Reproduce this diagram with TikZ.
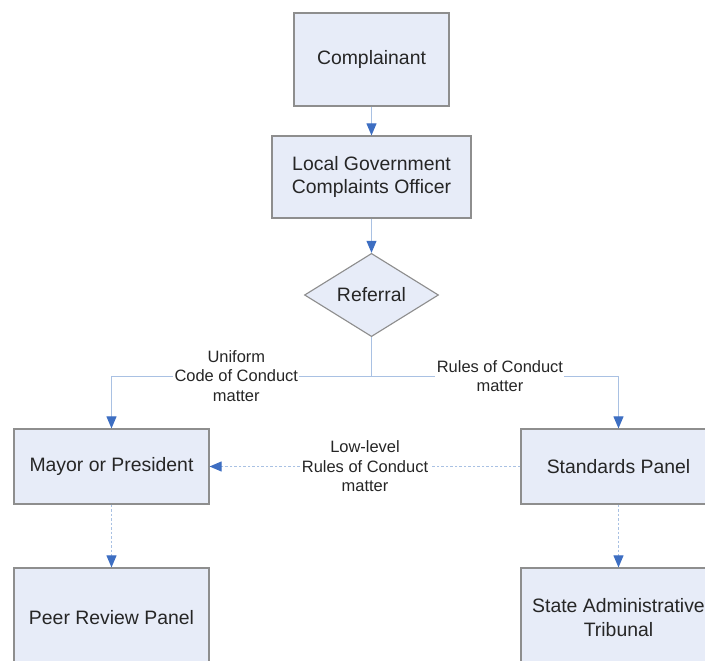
\documentclass[tikz,border=0pt]{standalone}
\usepackage{fontspec}
\setmainfont{Liberation Sans}
\usetikzlibrary{arrows.meta,shapes.geometric}
\definecolor{boxfill}{HTML}{E7ECF8}
\definecolor{boxline}{HTML}{8E8E8E}
\definecolor{flowline}{HTML}{A9C1E3}
\definecolor{flowhead}{HTML}{3D6EC2}
\definecolor{inktext}{HTML}{262626}

\begin{document}
\begin{tikzpicture}[x=0.025cm, y=-0.025cm,
        box/.style={draw=boxline, fill=boxfill, line width=0.8pt, align=center, text=inktext, inner sep=0pt, font=\fontsize{13.8}{17}\selectfont},
        decision/.style={box, diamond},
        link/.style={draw=flowline, line width=0.7pt},
        flow/.style={link, -{Triangle[length=0.3cm, width=0.25cm, color=flowhead]}},
        weak/.style={flow, dash pattern=on 2pt off 1.2pt},
        tag/.style={fill=white, align=center, inner sep=1pt, text=inktext, font=\fontsize{11.7}{13.8}\selectfont}]
        \clip (0,0) rectangle (705,661);
        \node[box, minimum width=3.875cm, minimum height=2.325cm] (complainant) at (371.5,59.5) {Complainant};
        \node[box, minimum width=4.975cm, minimum height=2.05cm] (officer) at (371.5,177) {Local Government\\Complaints Officer};
        \node[decision, minimum width=3.35cm, minimum height=2cm] (referral) at (371.5,295) {Referral};
        \node[box, minimum width=4.875cm, minimum height=1.875cm] (mayor) at (111.5,466.5) {Mayor or President};
        \node[box, minimum width=4.875cm, minimum height=1.875cm] (standards) at (618.5,466.5) {Standards Panel};
        \node[box, minimum width=4.875cm, minimum height=2.5cm] (peer) at (111.5,618) {Peer Review Panel};
        \node[box, minimum width=4.875cm, minimum height=2.5cm] (tribunal) at (618.5,618) {State Administrative\\Tribunal};
        \coordinate (split) at (371.5,376);
        \draw[flow] (complainant) -- (officer);
        \draw[flow] (officer) -- (referral);
        \draw[link] (referral) -- (split);
        \draw[flow] (split) -| node[tag, pos=0.26] {Uniform\\Code of Conduct\\matter} (mayor);
        \draw[flow] (split) -| node[tag, pos=0.26] {Rules of Conduct\\matter} (standards);
        \draw[weak] (standards) -- node[tag] {Low-level\\Rules of Conduct\\matter} (mayor);
        \draw[weak] (mayor) -- (peer);
        \draw[weak] (standards) -- (tribunal);
    \end{tikzpicture}
\end{document}
